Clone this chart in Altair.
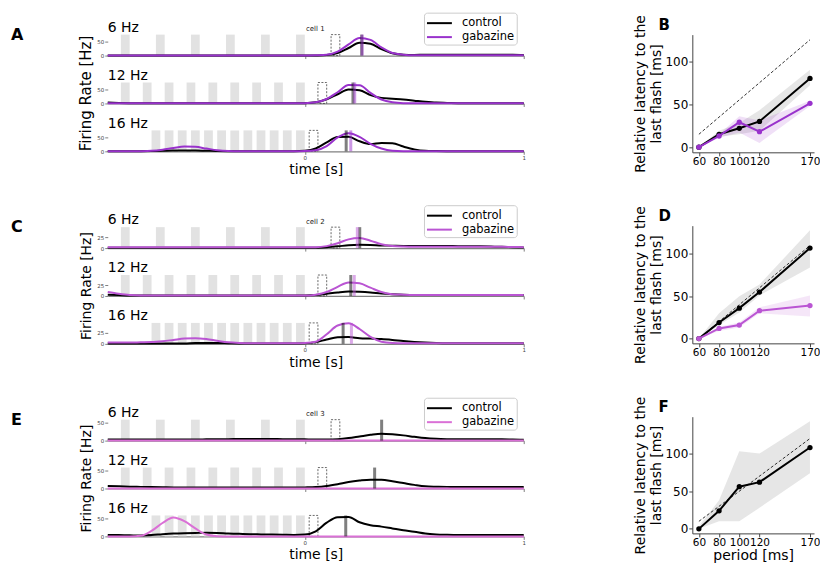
import altair as alt
import pandas as pd

# ---------------- data ----------------
T = [-0.9, -0.85, -0.8, -0.75, -0.7, -0.65, -0.6, -0.55, -0.5, -0.45, -0.4, -0.35, -0.3,
     -0.25, -0.2, -0.15, -0.1, -0.05, 0.0, 0.05, 0.1, 0.15, 0.2, 0.25, 0.3, 0.35, 0.4,
     0.45, 0.5, 0.55, 0.6, 0.65, 0.7, 0.75, 0.8, 0.85, 0.9, 0.95, 1.0]

FREQS = ["6 Hz", "12 Hz", "16 Hz"]
FLASH_ON = {
    "6 Hz": [-0.84, -0.68, -0.52, -0.36, -0.20, -0.04],
    "12 Hz": [-0.84, -0.74, -0.64, -0.54, -0.44, -0.34, -0.24, -0.14, -0.04],
    "16 Hz": [-0.70, -0.64, -0.58, -0.52, -0.46, -0.40, -0.34, -0.28, -0.22, -0.16, -0.10, -0.04],
}
FLASH_DUR = 0.04
OMIT_ON = {"6 Hz": 0.12, "12 Hz": 0.06, "16 Hz": 0.02}

# cell 1 (A)
A6_CTRL = [0, 0, 0, 0, 0, 0, 0, 0, 0, 0, 0, 0, 0, 0, 0, 0, 0, 0, 0,
           0.5, 2, 9, 27, 46, 42, 23, 8, 3, 2, 3, 3, 3, 3, 3, 3, 3, 3, 3, 2]
A6_GAB = [0, 0, 0, 0, 0, 0, 0, 0, 0, 0, 0, 0, 0, 0, 0, 0, 0, 0, 0,
          1, 3, 14, 40, 63, 56, 29, 9, 3, 1, 1, 1, 1, 1, 1, 1, 1, 1, 1, 1]
A12_CTRL = [3, 2, 1, 0.5, 0.5, 0.5, 0.5, 0.5, 0.5, 0.5, 0.5, 0.5, 0.5, 0.5, 0.5, 0.5, 0.5, 0.5, 1,
            4, 15, 33, 50, 47, 30, 20, 17, 14, 10, 6, 3, 2, 1, 1, 1, 1, 1, 1, 1]
A12_GAB = [0.5, 0.5, 0.5, 0.5, 0.5, 0.5, 0.5, 0.5, 0.5, 0.5, 0.5, 0.5, 0.5, 0.5, 0.5, 0.5, 0.5, 0.5, 1,
           4, 16, 40, 66, 65, 38, 14, 4, 1, 0.5, 0.5, 0.5, 0.5, 0.5, 0.5, 0.5, 0.5, 0.5, 0.5, 0.5]
A16_CTRL = [0.5, 0.5, 0.5, 0.5, 1, 2, 3, 3, 3, 2, 1, 0.5, 0.5, 0.5, 0.5, 0.5, 0.5, 0.5, 2,
            10, 32, 51, 52, 36, 26, 30, 29, 17, 7, 2, 1, 0.5, 0.5, 0.5, 0.5, 0.5, 0.5, 0.5, 0.5]
A16_GAB = [0, 0, 0, 0.5, 2, 6, 12, 17, 16, 10, 4, 1, 0.3, 0.3, 0.3, 0.3, 0.3, 0.3, 1,
           4, 19, 50, 65, 52, 27, 10, 2, 0.5, 0.3, 0.3, 0.3, 0.3, 0.3, 0.3, 0.3, 0.3, 0.3, 0.3, 0.3]

# cell 2 (C)
C6_CTRL = [1, 1, 1, 1, 1, 1, 1, 1, 1, 1, 1, 1, 1, 1, 1, 1, 1, 1, 1,
           1, 2, 4, 6.5, 7.5, 7, 6, 5.5, 5, 5, 5, 5, 5, 4.5, 4.5, 4, 3.5, 3, 2, 1.5]
C6_GAB = [2, 2, 2, 2, 2, 2, 2, 2, 2, 2, 2, 2, 2, 2, 2, 2, 2, 2, 2,
          2, 4.5, 11, 20, 23, 17, 9, 5, 3.5, 3, 3, 3, 3, 3, 3, 3, 3, 3, 2.5, 2]
C12_CTRL = [3, 2, 1, 1, 1, 1, 1, 1, 1, 1, 1, 1, 1, 1, 1, 1, 1, 1, 1,
            2, 5, 8, 10, 9.5, 8, 5.5, 4, 3, 2.5, 2.5, 2.5, 2.5, 2.5, 2.5, 2.5, 2.5, 2.5, 2.5, 2.5]
C12_GAB = [9, 5, 2, 1, 1, 1, 1, 1, 1, 1, 1, 1, 1, 1, 1, 1, 1, 1, 1,
           3, 9, 21, 31, 29, 19, 9, 4, 3, 2.5, 2.5, 2.5, 2.5, 2.5, 2.5, 2.5, 2.5, 2.5, 2.5, 2.5]
C16_CTRL = [1, 1, 1, 1, 1, 1, 1, 1, 2, 2, 2, 1.5, 1, 1, 1, 1, 1, 1, 1.5,
            4, 10, 15, 15.5, 13, 12, 11, 9, 6.5, 4.5, 3, 2, 1.5, 1.5, 1.5, 1.5, 1.5, 1.5, 1.5, 1.5]
C16_GAB = [3, 3, 3, 3.5, 4, 6, 9, 12, 13, 11, 7, 3.5, 2, 1.5, 1.5, 1.5, 1.5, 1.5, 2,
           5, 22, 42, 47, 34, 16, 5, 2, 1.5, 1.5, 1.5, 1.5, 1.5, 1.5, 1.5, 1.5, 1.5, 1.5, 1.5, 1.5]

# cell 3 (E)
E6_CTRL = [3, 3, 3, 3, 3, 3, 3, 3, 3, 3.5, 4, 4, 4.5, 4.5, 4.5, 4.5, 4, 4, 3.5,
           3, 3, 4, 7, 11.5, 16, 19, 17.5, 14.5, 10.5, 7, 5, 4, 3.5, 3.5, 3.5, 3.5, 3.5, 3, 2.5]
E6_GAB = [0, 0, 0, 0, 0, 0, 0, 0, 0, 0, 0, 0, 0, 0, 0, 0, 0, 0, 0,
          0, 0, 0, 0, 0, 0, 0, 0, 0, 0, 0, 0, 0, 0, 0, 0, 0, 0, 0, 0]
E12_CTRL = [7, 6, 5, 4.5, 4, 3.5, 3, 3, 3, 3, 3, 3, 3, 3, 3, 2.5, 2.5, 2.5, 3,
            4, 7, 12, 18, 22, 24.5, 24, 20, 15, 10, 6, 5, 4.5, 4, 4, 4, 4, 4, 4, 4]
E12_GAB = [0, 0, 0, 0, 0, 0, 0, 0, 0, 0, 0, 0, 0, 0, 0, 0, 0, 0, 0,
           0, 0, 0, 0, 0, 0, 0, 0, 0, 0, 0, 0, 0, 0, 0, 0, 0, 0, 0, 0]
E16_CTRL = [4, 3.5, 3, 2.5, 3.5, 6, 8, 9, 9.5, 10, 9.5, 8, 7, 6, 5.5, 5, 4.5, 4, 5,
            14, 38, 53, 54, 39, 31, 27, 22, 17, 13, 8, 5.5, 4.5, 4, 4, 4, 4, 4, 3.5, 3.5]
E16_GAB = [0, 0, 0, 1.5, 15, 37, 52, 42, 22, 5, 0.5, 0, 0, 0, 0, 0, 0, 0, 0,
           0, 0, 0, 0, 0, 0, 0, 0, 0, 0, 0, 0, 0, 0, 0, 0, 0, 0, 0, 0]

# peak markers (s) per frequency: 6, 12, 16 Hz
A_PEAK_CTRL = [0.26, 0.22, 0.189]
A_PEAK_GAB = [0.262, 0.228, 0.21]
C_PEAK_CTRL = [0.251, 0.21, 0.175]
C_PEAK_GAB = [0.24, 0.226, 0.213]
E_PEAK_CTRL = [0.351, 0.319, 0.187]
E_PEAK_GAB = []

# latency panels
PERIODS = [60, 80, 100, 120, 170]
B_CTRL = [0, 15, 22, 30, 80]
B_CTRL_LO = [0, 12, 15, 19, 72]
B_CTRL_HI = [0, 19, 28, 43, 90]
B_GAB = [0, 13, 29, 18, 51]
B_GAB_LO = [0, 11, 17, 5, 48]
B_GAB_HI = [0, 15, 36, 31, 54]
B_DASH_X = [60, 170]
B_DASH_Y = [15, 125]

D_CTRL = [0, 19, 36, 55, 107]
D_CTRL_LO = [0, 16, 31, 51, 84]
D_CTRL_HI = [0, 30, 50, 64, 128]
D_GAB = [0, 12, 16, 33, 39]
D_GAB_LO = [0, 9, 13, 30, 26]
D_GAB_HI = [0, 14, 19, 37, 51]
D_DASH_X = [60, 170]
D_DASH_Y = [0, 110]

F_CTRL = [0, 24, 56, 62, 108]
F_CTRL_LO = [0, 10, 10, 28, 74]
F_CTRL_HI = [3, 38, 103, 100, 143]
F_DASH_X = [60, 170]
F_DASH_Y = [10, 120]

# ---------------- styling ----------------
GROUPS = {
    "A": dict(cell="cell 1", purple="#9932CC", ymax=75, yticks=[0, 50], ytsize=15,
              curves=[(A6_CTRL, A6_GAB), (A12_CTRL, A12_GAB), (A16_CTRL, A16_GAB)],
              pc=A_PEAK_CTRL, pg=A_PEAK_GAB),
    "C": dict(cell="cell 2", purple="#BA55D3", ymax=48, yticks=[0, 25], ytsize=14,
              curves=[(C6_CTRL, C6_GAB), (C12_CTRL, C12_GAB), (C16_CTRL, C16_GAB)],
              pc=C_PEAK_CTRL, pg=C_PEAK_GAB),
    "E": dict(cell="cell 3", purple="#DA70D6", ymax=58, yticks=[0, 50], ytsize=14,
              curves=[(E6_CTRL, E6_GAB), (E12_CTRL, E12_GAB), (E16_CTRL, E16_GAB)],
              pc=E_PEAK_CTRL, pg=E_PEAK_GAB),
}
LW, LH = 417, 21
AXG = "#808080"


def make_row(g, k):
    cfg = GROUPS[g]
    f = FREQS[k]
    first, middle, last = k == 0, k == 1, k == 2
    xs = alt.Scale(domain=[-0.9, 1.0], nice=False, zero=False)
    ys = alt.Scale(domain=[0, cfg["ymax"]], nice=False, zero=False)
    cs = alt.Scale(domain=["control", "gabazine"], range=["black", cfg["purple"]])
    xaxis = alt.Axis(values=[0, 1], format="d", labels=last, labelFontSize=5.5, labelColor="#444",
                     labelPadding=1, labelFlush=False, tickSize=3, tickColor=AXG, domainColor=AXG,
                     domainWidth=1.2, grid=False, title="time [s]" if last else None,
                     titleFontSize=14, titleFontWeight="normal", titleColor="black", titlePadding=2)
    yaxis = alt.Axis(values=cfg["yticks"], domain=False, tickSize=3, tickColor=AXG,
                     labelFontSize=5.5, labelColor="#444", labelPadding=1, grid=False,
                     title="Firing Rate [Hz]" if middle else None, titleFontSize=cfg["ytsize"],
                     titleFontWeight="normal", titleColor="black", titlePadding=3)

    def X(field):
        return alt.X(field, type="quantitative", scale=xs, axis=xaxis)

    bdf = pd.DataFrame({"s": FLASH_ON[f]})
    bdf["e"] = bdf["s"] + FLASH_DUR
    bars = alt.Chart(bdf).mark_rect(color="#e2e2e2").encode(x=X("s"), x2="e:Q")
    odf = pd.DataFrame({"s": [OMIT_ON[f]], "e": [OMIT_ON[f] + FLASH_DUR]})
    omit = alt.Chart(odf).mark_rect(fillOpacity=0, stroke="#444", strokeWidth=0.8,
                                    strokeDash=[2, 1.5]).encode(x=X("s"), x2="e:Q")

    if first:
        leg = alt.Legend(orient="none", legendX=317, legendY=-22, title=None,
                         symbolType="M-1,0L2.33,0", symbolSize=225, symbolStrokeWidth=2,
                         labelFontSize=11.5, labelColor="black", labelOffset=19, padding=2,
                         rowPadding=0, strokeColor="#cccccc", fillColor="white", cornerRadius=3)
    else:
        leg = None
    ctrl, gab = cfg["curves"][k]
    dfc = pd.DataFrame({"t": T, "v": ctrl, "cond": "control"})
    dfg = pd.DataFrame({"t": T, "v": gab, "cond": "gabazine"})
    Y = alt.Y("v:Q", scale=ys, axis=yaxis)
    C = alt.Color("cond:N", scale=cs, legend=leg)
    line_c = alt.Chart(dfc).mark_line(strokeWidth=2, interpolate="monotone").encode(x=X("t"), y=Y, color=C)
    line_g = alt.Chart(dfg).mark_line(strokeWidth=2, interpolate="monotone").encode(x=X("t"), y=Y, color=C)

    layers = [bars, omit, line_c, line_g]
    mc = alt.Chart(pd.DataFrame({"t": [cfg["pc"][k]]})).mark_rule(
        strokeWidth=3, color="black", opacity=0.5).encode(x=X("t"))
    layers.append(mc)
    if cfg["pg"]:
        mg = alt.Chart(pd.DataFrame({"t": [cfg["pg"][k]]})).mark_rule(
            strokeWidth=3, color=cfg["purple"], opacity=0.5).encode(x=X("t"))
        layers.append(mg)

    ftxt = alt.Chart(pd.DataFrame({"lab": [f]})).mark_text(
        align="left", baseline="alphabetic", fontSize=14, color="black").encode(
        x=alt.value(0), y=alt.value(-2.7), text="lab:N")
    layers.append(ftxt)
    if first:
        letter = alt.Chart(pd.DataFrame({"lab": [g]})).mark_text(
            align="left", baseline="alphabetic", fontSize=16, fontWeight="bold", color="black").encode(
            x=alt.value(-97), y=alt.value(5), text="lab:N")
        cell = alt.Chart(pd.DataFrame({"lab": [cfg["cell"]]})).mark_text(
            align="center", baseline="alphabetic", fontSize=7, color="#222").encode(
            x=alt.value(208), y=alt.value(-3.5), text="lab:N")
        layers += [letter, cell]
    return alt.layer(*layers).properties(width=LW, height=LH)


def spacer(h):
    return alt.Chart(pd.DataFrame({"z": [0]})).mark_point(opacity=0).encode(
        x=alt.X("z:Q", axis=None), y=alt.Y("z:Q", axis=None)).properties(width=LW, height=h)


def make_lat(letter, ctrl, lo, hi, gab, glo, ghi, dx, dy, ydom, purple, xtitle, h, top_pad):
    xs = alt.Scale(domain=[53.5, 174], nice=False, zero=False)
    ys = alt.Scale(domain=ydom, nice=False, zero=False)
    xaxis = alt.Axis(values=PERIODS, format="d", labelOverlap=False, labelFlush=False,
                     labelFontSize=10.5, labelColor="black", labelPadding=1, tickSize=3.5,
                     tickColor="#444", domainColor="#444", grid=False, title=xtitle,
                     titleFontSize=14, titleFontWeight="normal", titleColor="black", titlePadding=0)
    yaxis = alt.Axis(values=[0, 50, 100], labelFontSize=12, labelColor="black", labelPadding=1,
                     tickSize=3.5, tickColor="#444", domainColor="#444", grid=False,
                     title=["Relative latency to the", "last flash [ms]"], titleFontSize=14,
                     titleFontWeight="normal", titleColor="black", titlePadding=1.5, titleLineHeight=16)
    XP = alt.X("p:Q", scale=xs, axis=xaxis)
    df = pd.DataFrame({"p": PERIODS, "c": ctrl, "lo": lo, "hi": hi})
    layers = [alt.Chart(df).mark_area(color="#808080", opacity=0.2).encode(
        x=XP, y=alt.Y("lo:Q", scale=ys, axis=yaxis), y2="hi:Q")]
    if gab is not None:
        dg = pd.DataFrame({"p": PERIODS, "c": gab, "lo": glo, "hi": ghi})
        layers.append(alt.Chart(dg).mark_area(color=purple, opacity=0.15).encode(
            x=XP, y=alt.Y("lo:Q", scale=ys, axis=yaxis), y2="hi:Q"))
    dd = pd.DataFrame({"p": dx, "c": dy})
    layers.append(alt.Chart(dd).mark_line(color="black", strokeWidth=0.8, strokeDash=[3, 2]).encode(
        x=XP, y=alt.Y("c:Q", scale=ys, axis=yaxis)))
    layers.append(alt.Chart(df).mark_line(
        color="black", strokeWidth=2,
        point=alt.OverlayMarkDef(filled=True, color="black", size=28, opacity=1)).encode(
        x=XP, y=alt.Y("c:Q", scale=ys, axis=yaxis)))
    if gab is not None:
        layers.append(alt.Chart(dg).mark_line(
            color=purple, strokeWidth=2,
            point=alt.OverlayMarkDef(filled=True, color=purple, size=28, opacity=1)).encode(
            x=XP, y=alt.Y("c:Q", scale=ys, axis=yaxis)))
    layers.append(alt.Chart(pd.DataFrame({"lab": [letter]})).mark_text(
        align="left", baseline="alphabetic", fontSize=15, fontWeight="bold", color="black").encode(
        x=alt.value(-34), y=alt.value(-5), text="lab:N"))
    if top_pad:
        # invisible copy of the letter that levels the column top with the left column
        layers.append(alt.Chart(pd.DataFrame({"lab": [letter]})).mark_text(
            align="left", baseline="top", fontSize=10, opacity=0).encode(
            x=alt.value(-34), y=alt.value(-22), text="lab:N"))
    return alt.layer(*layers).properties(width=122, height=h)


rows = []
for gi, g in enumerate(["A", "C", "E"]):
    if gi > 0:
        rows.append(spacer(22))
    for k in range(3):
        rows.append(make_row(g, k))

left = alt.vconcat(*rows, spacing=27, bounds="flush").resolve_scale(color="independent")

right = alt.vconcat(
    make_lat("B", B_CTRL, B_CTRL_LO, B_CTRL_HI, B_GAB, B_GAB_LO, B_GAB_HI, B_DASH_X, B_DASH_Y,
             [-6, 131], "#9932CC", None, 118, True),
    make_lat("D", D_CTRL, D_CTRL_LO, D_CTRL_HI, D_GAB, D_GAB_LO, D_GAB_HI, D_DASH_X, D_DASH_Y,
             [-5.6, 133.5], "#BA55D3", None, 118, False),
    make_lat("F", F_CTRL, F_CTRL_LO, F_CTRL_HI, None, None, None, F_DASH_X, F_DASH_Y,
             [-6, 149], "#DA70D6", "period [ms]", 117, False),
    spacing=73.5, bounds="flush")

chart = alt.hconcat(left, right, spacing=106).resolve_scale(color="independent").properties(
    padding={"left": 3, "top": 3, "right": 0, "bottom": 0}).configure(
    font="DejaVu Sans").configure_view(stroke=None)

chart.save("out.html", embed_options={"renderer": "svg", "actions": False})
